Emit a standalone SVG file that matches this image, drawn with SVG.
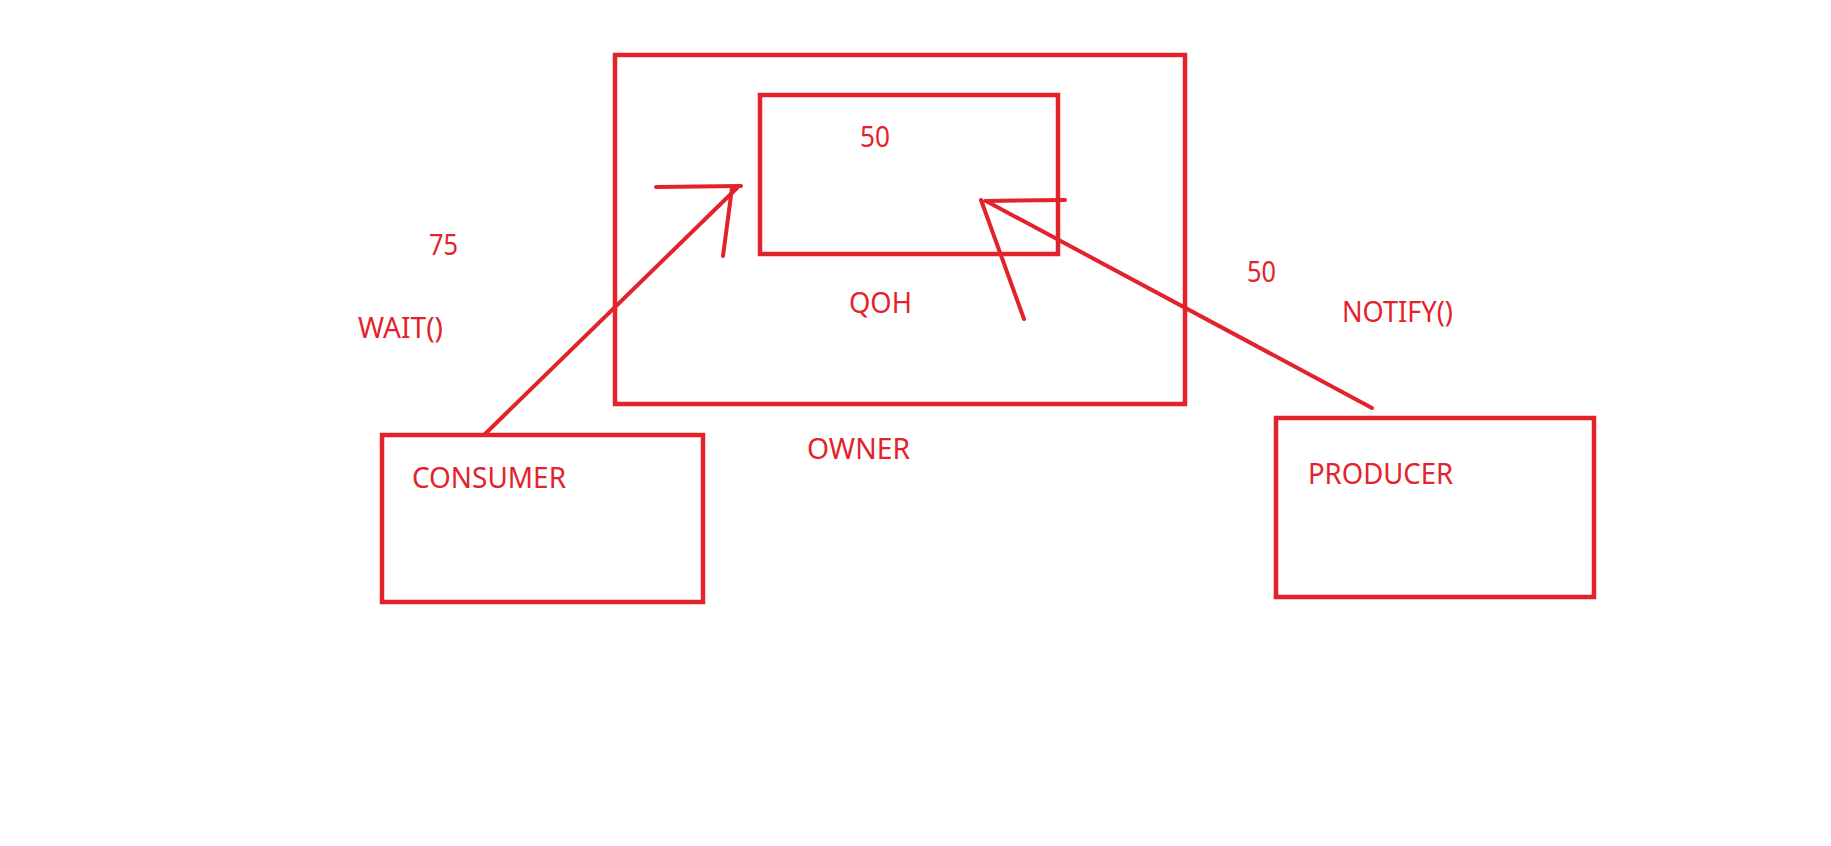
<svg xmlns="http://www.w3.org/2000/svg" width="1831" height="846" viewBox="0 0 1831 846">
  <style>
    .box { fill: none; stroke: #E3232B; stroke-width: 4.5; }
    .ln { fill: none; stroke: #E3232B; stroke-width: 4; stroke-linecap: round; stroke-linejoin: round; }
    .lbl { fill: #E3232B; font-family: "Noto Sans", "Open Sans", "DejaVu Sans", sans-serif; font-size: 29px; }
  </style>
  <rect width="1831" height="846" fill="#FFFFFF"/>
  <g id="owner">
    <rect class="box" x="615" y="55" width="570" height="349"/>
    <text class="lbl" x="807" y="459" textLength="103" lengthAdjust="spacingAndGlyphs">OWNER</text>
  </g>
  <g id="qoh">
    <rect class="box" x="760" y="95" width="298" height="159"/>
    <text class="lbl" x="860" y="147" textLength="30" lengthAdjust="spacingAndGlyphs">50</text>
    <text class="lbl" x="849" y="313" textLength="63" lengthAdjust="spacingAndGlyphs">QOH</text>
  </g>
  <g id="consumer">
    <rect class="box" x="382" y="435" width="321" height="167"/>
    <text class="lbl" x="412" y="488" textLength="154" lengthAdjust="spacingAndGlyphs">CONSUMER</text>
  </g>
  <g id="producer">
    <rect class="box" x="1276" y="418" width="318" height="179"/>
    <text class="lbl" x="1308" y="484" textLength="145" lengthAdjust="spacingAndGlyphs">PRODUCER</text>
  </g>
  <g id="connectors">
    <g id="wait">
      <line class="ln" x1="484" y1="435" x2="737" y2="188"/>
      <polyline class="ln" points="656,187 741,186"/>
      <polyline class="ln" points="732,188 723,256"/>
      <text class="lbl" x="429" y="255" textLength="29" lengthAdjust="spacingAndGlyphs">75</text>
      <text class="lbl" x="358" y="338" textLength="85" lengthAdjust="spacingAndGlyphs">WAIT()</text>
    </g>
    <g id="notify">
      <line class="ln" x1="1372" y1="408" x2="986" y2="201"/>
      <polyline class="ln" points="985,201 1065,200"/>
      <polyline class="ln" points="981,200 1024,319"/>
      <text class="lbl" x="1247" y="282" textLength="29" lengthAdjust="spacingAndGlyphs">50</text>
      <text class="lbl" x="1342" y="322" textLength="111" lengthAdjust="spacingAndGlyphs">NOTIFY()</text>
    </g>
  </g>
</svg>
